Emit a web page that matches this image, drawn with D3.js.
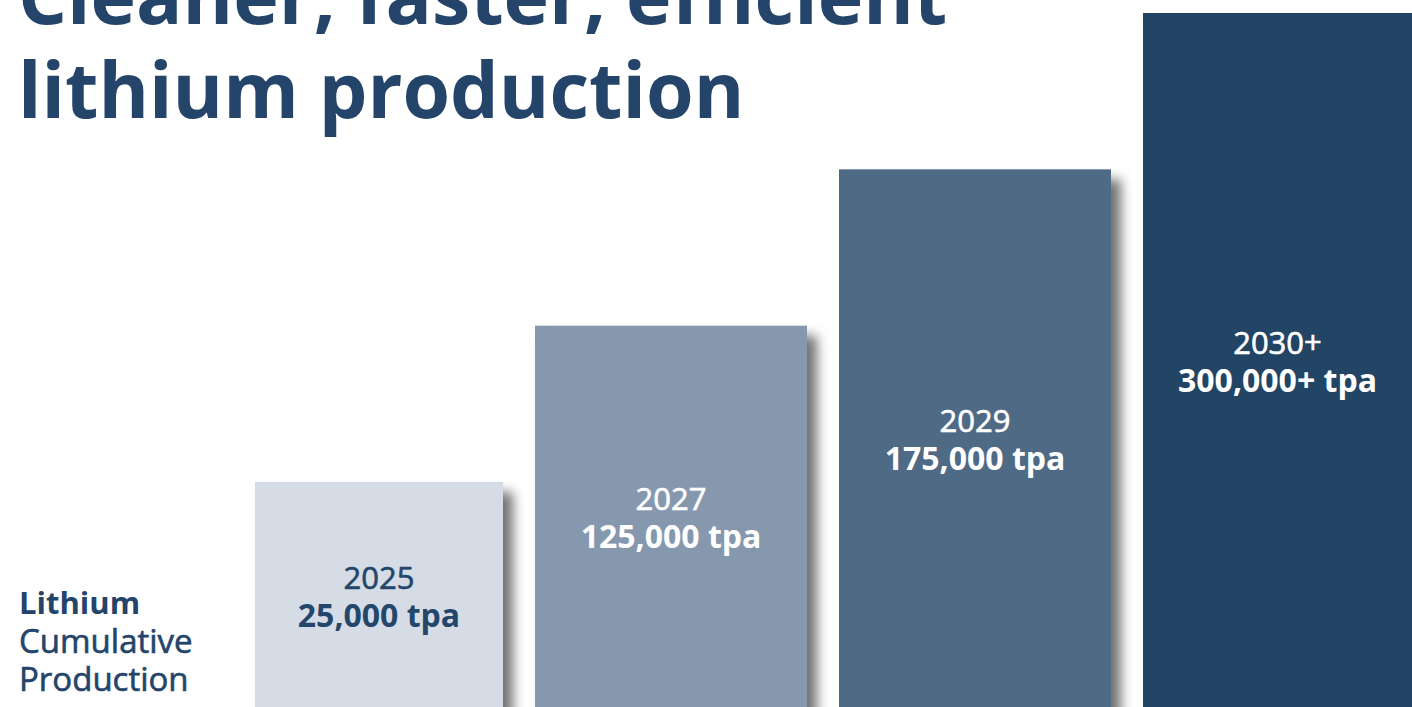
<!DOCTYPE html>
<html lang="en">
<head>
<meta charset="utf-8">
<title>Lithium production</title>
<script src="https://cdn.jsdelivr.net/npm/d3@7"></script>
<style>
  html, body { margin: 0; padding: 0; background: #fff; overflow: hidden; }
  svg { display: block; font-family: "Open Sans", sans-serif; }
</style>
</head>
<body>
<script>
// chart data
var years = ["2025", "2027", "2029", "2030+"];
var tonnes = [25000, 125000, 175000, 300000];
var valueLabels = ["25,000 tpa", "125,000 tpa", "175,000 tpa", "300,000+ tpa"];
var barColors = ["#d5dce6", "#8698ad", "#4f6a85", "#244466"];
var textColors = ["#24466b", "#ffffff", "#ffffff", "#ffffff"];
var titleLines = ["Cleaner, faster, efficient", "lithium production"];
var sideLabel = ["Lithium", "Cumulative", "Production"];

var width = 1412, height = 707;
var navy = "#24446a";
var plotLeft = 255;

var svg = d3.select("body").append("svg")
  .attr("width", width)
  .attr("height", height);

var defs = svg.append("defs");
var f = defs.append("filter").attr("id", "shadow")
  .attr("x", "-10%").attr("y", "-10%").attr("width", "130%").attr("height", "130%");
f.append("feDropShadow")
  .attr("dx", 10).attr("dy", 10)
  .attr("stdDeviation", 6)
  .attr("flood-color", "#000")
  .attr("flood-opacity", 0.55);

defs.append("clipPath").attr("id", "plotClip")
  .append("rect").attr("x", plotLeft).attr("y", 0)
  .attr("width", width - plotLeft + 40).attr("height", height);

// bars step up by rank, not to scale (as in the original graphic)
var x = d3.scaleBand().domain(years).range([231, 1415]).paddingInner(32 / 304);
var y = d3.scalePoint().domain(years).range([482, 13]);

var data = years.map(function(d, i) {
  return { year: d, value: tonnes[i], label: valueLabels[i], fill: barColors[i], text: textColors[i] };
});

var bars = svg.append("g").attr("clip-path", "url(#plotClip)");
bars.selectAll("rect")
  .data(data)
  .enter()
  .append("rect")
  .attr("x", function(d) { return x(d.year); })
  .attr("y", function(d) { return y(d.year); })
  .attr("width", x.bandwidth())
  .attr("height", function(d) { return height + 20 - y(d.year); })
  .attr("fill", function(d) { return d.fill; })
  .attr("filter", "url(#shadow)");

function cx(d) {
  var x0 = Math.max(x(d.year), plotLeft);
  var x1 = Math.min(x(d.year) + x.bandwidth(), width);
  return (x0 + x1) / 2;
}
function cy(d) { return (y(d.year) + height) / 2; }

var labels = svg.append("g").attr("text-anchor", "middle");
labels.selectAll("text.year")
  .data(data)
  .enter()
  .append("text")
  .attr("class", "year")
  .attr("x", cx)
  .attr("y", function(d) { return cy(d) - 6; })
  .attr("font-size", "31px")
  .attr("fill", function(d) { return d.text; })
  .attr("stroke", function(d) { return d.text; })
  .attr("stroke-width", 0.6)
  .text(function(d) { return d.year; });

labels.selectAll("text.val")
  .data(data)
  .enter()
  .append("text")
  .attr("class", "val")
  .attr("x", cx)
  .attr("y", function(d) { return cy(d) + 32; })
  .attr("font-size", "32px")
  .attr("font-weight", "bold")
  .attr("fill", function(d) { return d.text; })
  .text(function(d) { return d.label; });

// title
svg.append("g").selectAll("text")
  .data(titleLines)
  .enter()
  .append("text")
  .attr("x", 18)
  .attr("y", function(d, i) { return 24 + i * 94; })
  .attr("font-size", "77px")
  .attr("font-weight", "bold")
  .attr("fill", navy)
  .text(function(d) { return d; });

// side label
svg.append("g").selectAll("text")
  .data(sideLabel)
  .enter()
  .append("text")
  .attr("x", 19)
  .attr("y", function(d, i) { return 614 + i * 38.5; })
  .attr("font-size", function(d, i) { return i === 0 ? "31px" : "33px"; })
  .attr("font-weight", function(d, i) { return i === 0 ? "bold" : "normal"; })
  .attr("stroke", function(d, i) { return i === 0 ? "none" : navy; })
  .attr("stroke-width", 0.6)
  .attr("fill", navy)
  .text(function(d) { return d; });
</script>
</body>
</html>
